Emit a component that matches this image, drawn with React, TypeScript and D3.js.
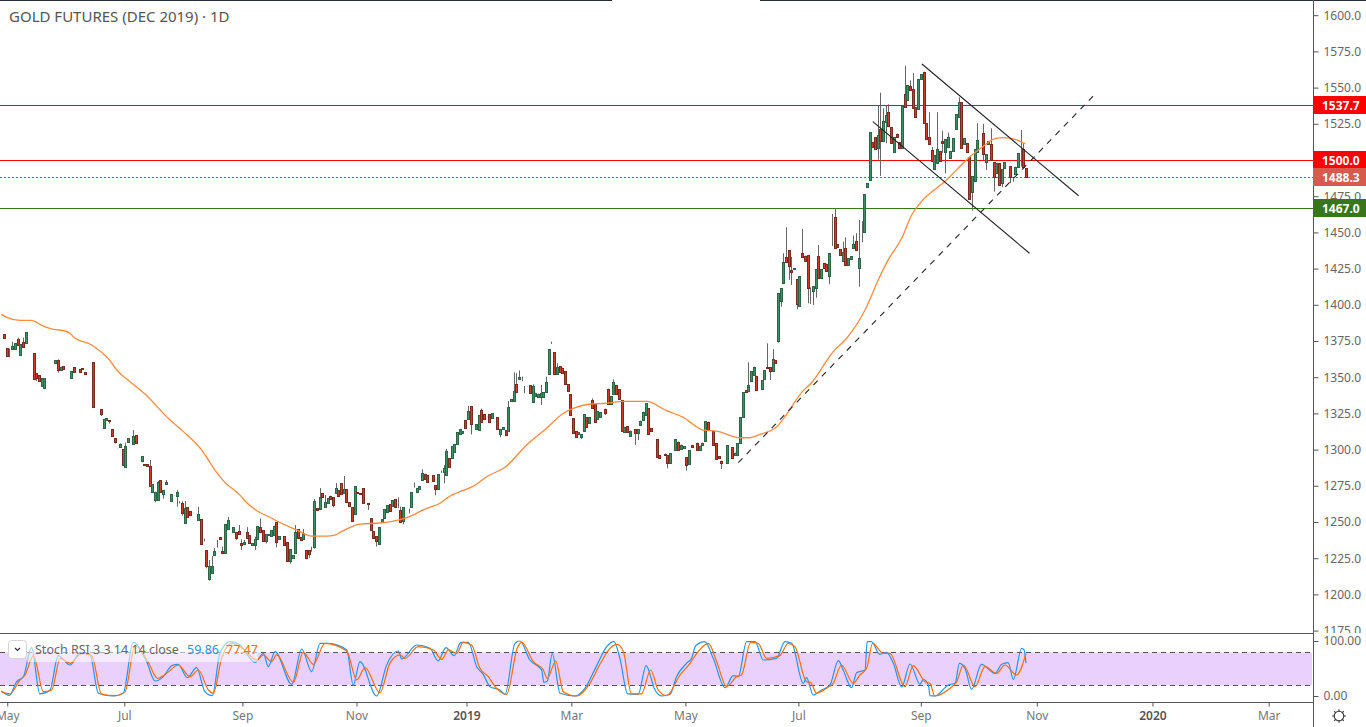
import { useEffect, useRef } from "react";
import * as d3 from "d3";

const WIDTH = 1366;
const HEIGHT = 727;
const AXIS_X = 1313;
const PANEL_Y = 633;
const BOTTOM_Y = 702;
const FONT = "'Noto Sans', sans-serif";

// daily candles, ten per row, bar 0 is the first one visible on the left
const opens = [
  1382.3,1379.6,1369.9,1363.7,1369.7,1369.7,1376.1,1365.5,1374.3,1373.4,
  1378.9,1376.8,1366.5,1352.6,1351.3,1344.1,1342.3,1349.9,1347.4,1362.3,
  1360,1361.6,1354.7,1357.5,1350.6,1349.2,1349.2,1356.8,1354.5,1355.4,
  1356.1,1353.3,1353.3,1360.2,1360.2,1331.2,1329.2,1327.8,1315.1,1320.4,
  1320.2,1314,1307.8,1300.6,1302,1300.4,1288.2,1305.5,1305.5,1303.6,
  1309.8,1293,1292.3,1289.8,1289.8,1288.4,1270.9,1265.4,1265,1278.8,
  1269.5,1276,1271.8,1264.7,1268.2,1268.2,1264.3,1262.9,1249.5,1260.1,
  1257.3,1257.1,1256.7,1251.1,1251.8,1236.6,1230.4,1210.9,1214.5,1227.4,
  1235.7,1239.4,1229.7,1228.3,1245,1249.7,1242.9,1242.9,1243.5,1235.2,
  1234.6,1242.9,1240.8,1233.9,1234.1,1238,1246.3,1244.2,1236.6,1241,
  1240,1241,1250,1238,1240.8,1240,1235.9,1222.8,1225.3,1228.3,
  1244.9,1239.4,1238,1230.4,1230.4,1229.5,1233,1259.4,1258.7,1269.8,
  1260.1,1262.9,1268.2,1267,1269.8,1271.8,
  1276.9,1269.8,1272.6,1263.6,1260.4,1255.3,1270.5,1269.8,1273.3,1265.7,
  1262.9,1252.5,1243.8,1240.3,1234.6,1249.8,1253,1257.1,1262.2,1261.3,
  1265.9,1259.9,1258.1,1250.7,1261,1256.9,1260.6,1277.2,1271,1272.6,
  1278.8,1283.4,1282.5,1280.9,1282.2,1275.3,1273,1284.1,1284.8,1282.2,
  1294,1294.4,1298.6,1304.1,1311,1311.2,1320.4,1321.4,1329.9,1322.1,
  1314.5,1313.5,1327.4,1324.4,1322.7,1324.4,1321.6,1323.7,1322.3,1311,
  1314.5,1313.5,1312.8,1333.3,1333.8,1345.1,1349,1347.4,1343.9,1343.9,
  1344.4,1333.1,1337,1336.6,1336.6,1336.6,1340,1352.4,1373.2,1367.2,
  1352.4,1357.7,1356.6,1354.1,1345.3,1338.2,1321.6,1312.6,1310.8,1308.9,
  1312.6,1322.3,1318.6,1334.3,1331.5,1320.9,1322.7,1330.1,1328.3,1342.1,
  1331.7,1338.6,1344.4,1341.6,1334,1312.4,1316.3,1309.6,1314,1314,
  1311.2,1317.2,1320.4,1324.1,1328.7,1314.7,1309.6,1307.1,1296,1294,
  1297.2,1296,1290.5,1297,1299.5,1305.5,1300.4,1300.9,1294.7,1290.1,
  1303,1303.2,1304.8,1300,1303.2,1305.7,1319.3,1315.1,1313.1,1304.3,
  1295.6,1292.4,1290.5,1290.5,1301.1,1301.6,1296,1296,1304.3,1322.7,
  1340.9,1340.7,1347.4,1351.5,1351,1343.5,1342.1,1349,1357.3,1356.8,
  1354.5,1361.7,1375.3,1402.9,1414.9,1433,1437.6,1424.3,1424.5,1417.6,
  1399.4,1435.6,1434,1434.2,1412.1,1409.8,1411.9,1433.5,1418.3,1428.7,
  1428.4,1420.1,1440.9,1460.4,1441.8,1438.3,1430.3,1439,1427.3,1431.9,
  1439.5,1443.9,1425.2,1457.7,1450.5,1481.2,1486.5,1512.2,1515.7,1508.6,
  1521.2,1513.2,1526.5,1533.4,1522.6,1505.8,1518.2,1512.2,1508.3,1545.4,
  1541.2,1551.1,1549.3,1536.4,1535,1555.7,1561,1525.4,1516.2,1506.7,
  1493.6,1497.7,1506,1512.9,1505.8,1508.8,1501.6,1506.5,1521.2,1529.5,
  1539.9,1511.1,1511.5,1502.1,1477.7,1485.5,1505.3,1511.5,1518.5,1498.4,
  1510.9,1510.9,1498.4,1491.3,1497.7,1484.4,1494.3,1495.4,1495.7,1487.8,
  1490.4,1495,1505.8,1507.4,1494.3,
];

const closes = [
  1382.3,1377.3,1364.9,1363.9,1371.5,1373.4,1372.5,1372.7,1371.1,1381,
  1378.9,1376.8,1348.5,1349.7,1347.6,1349.2,1349.2,1349.9,1347.4,1362.3,
  1361.6,1354.7,1357.3,1355.9,1350.6,1349.2,1354.3,1353.3,1354.5,1353.8,
  1355.9,1352,1353.3,1360.2,1329.2,1331.2,1329.2,1324.6,1321.1,1321.6,
  1319.8,1309.6,1305.5,1300.4,1303.6,1289.3,1302.5,1307.8,1305.3,1309.4,
  1304.8,1293,1295.3,1289.6,1288.4,1275.1,1276,1270.9,1277.6,1270.9,
  1271.8,1277.6,1271.8,1269.1,1268,1270.5,1264.3,1256.4,1259.4,1253.7,
  1254.6,1257.1,1256.7,1255.3,1234.6,1236.6,1219.8,1219.6,1219.6,1229.7,
  1235.3,1238,1228.3,1248.6,1251.1,1249.7,1246.3,1239.2,1241.5,1233.9,
  1236,1239.2,1235.2,1235.2,1238.2,1247,1243.3,1236.6,1241.5,1241.5,
  1244.2,1247.5,1236.4,1240,1240.8,1234.3,1222.8,1231.3,1227,1243.1,
  1238.9,1237.3,1242.2,1224.9,1227.7,1229.5,1264.5,1258,1267,1267,
  1263.6,1266.3,1265.6,1261.5,1273.2,1267.7,
  1269.1,1272.6,1263.6,1261.3,1250.9,1274.6,1270.3,1269.1,1262.9,1265.7,
  1262.7,1244.7,1239.2,1237.1,1246.6,1251.8,1259,1261.5,1257.4,1265.2,
  1260.1,1259.7,1250.2,1260.4,1261,1256.7,1270.7,1277.2,1273.3,1274.9,
  1283.6,1279.9,1277.9,1280.9,1278.5,1272.6,1282.9,1283.9,1287.1,1299,
  1288.2,1302.5,1303.6,1312.2,1314,1312.8,1315.1,1326.7,1317.5,1322.1,
  1317.5,1323.9,1319.3,1321.4,1322.5,1319.3,1325.1,1323.7,1314,1314,
  1315.4,1310.3,1329.2,1334.7,1340.5,1340,1349.9,1347.2,1343.9,1343.7,
  1339.3,1343.9,1339.3,1338.6,1339.3,1339.8,1346.7,1369.2,1373,1352.4,
  1357.3,1353.6,1353.1,1345.5,1340.7,1323.7,1311.7,1308.9,1312.2,1310.5,
  1324.4,1315.4,1322.3,1328.5,1319.3,1326.7,1325.7,1330.1,1325.5,1331.3,
  1336.8,1346.7,1338.6,1334.7,1313.1,1315.8,1312.4,1313.1,1314,1311.7,
  1314,1320,1326.2,1332,1311,1313.1,1309.4,1295.1,1294.4,1294,
  1296,1291,1297.4,1297,1307.3,1299.5,1303.4,1302.5,1289.4,1299.5,
  1301.6,1303.2,1299.5,1302.7,1304.8,1319.8,1313.3,1315.1,1303.4,1293.3,
  1294.2,1290.7,1290.5,1303,1301.1,1294.2,1297.9,1304.3,1322.3,1339.5,
  1339.8,1344.8,1354.1,1357.3,1340.9,1343.5,1347.9,1354.8,1356.1,1354.1,
  1362.4,1360,1408,1411.4,1429.4,1429.8,1426.6,1422.9,1425.2,1400.8,
  1419.7,1432.8,1430,1411.9,1412.1,1412.8,1424.5,1418.3,1424.5,1425.7,
  1423.6,1435.6,1440.7,1439,1439.7,1434.2,1436.3,1427.3,1432.1,1433.5,
  1441.8,1437.6,1432.1,1457.7,1476.3,1483.9,1519.1,1508.8,1507.9,1517.1,
  1513.4,1527.2,1530.9,1523.3,1511.6,1515.7,1515.7,1508.3,1537.3,1536.9,
  1551.6,1548.4,1536.2,1529.5,1555.7,1559.4,1525.4,1514.8,1511.1,1499.3,
  1503.3,1507.4,1499.1,1511.5,1514.3,1515.7,1506.3,1515,1531.6,1539.9,
  1508.1,1515,1505.8,1472.9,1489,1507.4,1513.9,1511.5,1504,1503.9,
  1513.2,1500,1488.5,1497.7,1483,1493.6,1498.4,1495.4,1488.1,1487.8,
  1495.4,1504.6,1505.4,1495.4,1488.3,
];

// only the bars with a visible wick, the rest stop at the body
const wickHighs: Record<number, number> = {
  3:1369.9,4:1374.5,6:1377.3,8:1377.3,21:1362.3,44:1304.3,46:1304.8,49:1313.5,55:1292.8,58:1278.3,
  61:1279,65:1272,67:1264.3,68:1264.5,73:1260.6,75:1238.5,77:1223.7,78:1226.5,79:1232,80:1237.6,
  82:1233,84:1253.4,88:1247.9,89:1238,90:1237.6,91:1246.5,94:1239.9,96:1252.5,109:1247.9,112:1245.2,
  115:1233,116:1265.9,118:1273.5,120:1268.6,124:1276.9,127:1281.8,147:1267,148:1260.6,151:1259.2,
  156:1286.4,163:1285.5,164:1289.4,165:1300.4,173:1330.1,178:1328.3,188:1333.6,190:1353.4,191:1352.7,
  192:1354.7,193:1350.4,197:1345.1,200:1344.6,202:1350.4,204:1374.5,206:1359.6,219:1335.4,227:1348.5,
  277:1360.3,284:1373.4,286:1369.3,290:1435.6,291:1453.5,293:1433,297:1452.4,303:1441.3,308:1462.7,
  309:1466,312:1443.6,313:1446.6,316:1447.8,317:1449.4,318:1458.6,325:1537.8,326:1546.5,327:1535.7,
  328:1538,329:1538.5,335:1565,337:1555,338:1559.9,344:1533,345:1509,347:1533,349:1520.3,351:1519,
  355:1543.3,362:1525.4,364:1525,367:1521.9,378:1520.7,379:1511.5,
};

const wickLows: Record<number, number> = {
  13:1347.4,21:1353.1,37:1323.2,40:1317.9,42:1304.3,52:1291.2,57:1263.6,60:1266.1,65:1260.6,66:1262.9,
  67:1254.4,76:1218,77:1209.5,80:1232.3,87:1237.6,89:1230.6,94:1230.6,98:1235.2,102:1232.5,107:1221.2,
  113:1224.2,114:1225.3,116:1231.6,123:1260.1,136:1258.3,139:1233,149:1248.4,151:1256,153:1273.7,
  161:1268.4,164:1276.7,174:1310.5,185:1308.5,194:1338.9,200:1330.8,215:1307.3,224:1323.9,235:1303.2,
  236:1306.6,247:1287.1,254:1285.5,267:1286.6,285:1348.1,288:1373.9,289:1398.7,292:1417.2,293:1413.7,
  295:1396.9,299:1401,300:1400.6,301:1399.9,302:1404.9,307:1414.2,318:1412.5,319:1443.2,325:1500.2,
  326:1489,328:1511.6,349:1505,350:1490.8,360:1465,364:1500,365:1493.1,368:1478.2,371:1481.2,374:1484,
  375:1485,378:1495.4,
};

const maBars = [
  0,2,6.9,10.9,15.6,19.3,23,25.5,26.7,33.5,40.3,42.8,46.5,53.3,61.9,67.5,74.3,79.2,83,88.5,89.7,101.5,
  109.5,115.1,120.6,123.7,125.6,133,140.4,150.3,157.7,162.7,165.1,176.3,180,186.8,194.8,202.2,208.4,
  212.1,218.3,224.5,230.7,239.3,246.7,252.9,260.3,265.3,273.9,277.6,281.3,286.9,297.4,300.5,308.5,
  313.5,320.3,325.8,328.9,333.9,337.6,340.7,349.9,359.2,364.8,367.9,371.6,376.5,379.8,
];
const maValues = [
  1393.4,1391.3,1389.3,1389.3,1385.3,1383,1382.1,1380.3,1378,1372.2,1361.4,1355,1348.7,1338.4,1321.6,
  1312.4,1299.7,1285.9,1277.2,1268.6,1265.9,1251.4,1244.5,1240.3,1240.3,1241,1242.8,1248.6,1249.3,1253,
  1259.4,1262.9,1266.3,1276.2,1281.3,1287.8,1303.2,1314.7,1325.1,1328.5,1331.5,1332,1333.3,1333.3,
  1326.9,1322.3,1313.5,1312.8,1308.2,1308.2,1310.5,1314.7,1340.7,1346.2,1367.7,1376.9,1396.4,1419.5,
  1431,1445.9,1462,1470.1,1485.1,1502.3,1510.4,1514.5,1515.5,1513.9,1511.1,
];

const kBars = [
  0,3,5.7,8.2,11.2,14.3,18,21.1,25.5,29.2,32.9,36,41.5,45.2,48.9,53.9,57,60.1,63.2,65.6,69,72.4,75.5,78.2,
  81.1,84.8,88.5,94.1,97.2,99,101.5,107.7,111.4,115.1,118.2,121.3,128.1,130.5,133,139.2,142.9,147.2,148.5,
  154,159,162,164.9,167.9,170.1,170.7,173.2,176.3,178.7,181.2,184.9,186.8,190.5,192.3,196,200.4,201.2,202.5,
  204.3,207.2,212.7,216.4,220.8,224.5,227.2,229.4,232.3,236.2,239.1,242.4,244.9,248,250.4,254.1,256,257.5,
  260.9,264,268.4,271.4,273.3,276.4,279.5,282.6,287.5,290.6,293.1,297.4,298.6,301.1,304.2,307.3,310.4,312.2,
  315.3,317.2,320.3,321.1,322.7,325.8,328.3,330.8,333.9,337,340.7,341.9,343.8,344.4,346.2,351.2,353.7,355.3,
  357.4,359.8,363.5,368.5,371,373.4,375.3,378.4,379.3,380,
];
const kValues = [
  9.1,1.2,26.1,35.2,87.9,3.7,10.3,73.4,56.4,79.4,74.6,4.9,0,4.9,97.6,62.4,27.3,35.2,55.2,57.6,33.3,51.5,7.9,0.6,
  77.6,98.8,92.7,61.2,77.6,53.3,80.6,21.2,85.5,44.3,95.8,95.8,83.7,20,62.4,0,56.4,81.8,67.3,
  92.7,86.7,63.6,87.9,73.4,95.8,97.6,97.6,53.3,39.4,17,10.9,3.1,95.8,100,65.5,47.3,24.9,27.3,
  77.6,4.9,0,14,55.2,89.7,98.8,68.5,3.7,3.1,55.2,10.9,0,3.1,35.2,59.4,68.5,91.5,
  98.8,68.5,15.2,37,35.2,98.8,98.8,65.5,68.5,98.8,95.8,23.1,33.3,1.8,10.9,20,64.2,47.3,
  15.2,42.4,47.3,98.8,98.8,75.8,79.4,59.4,16.4,58.2,21.2,30.3,20,0.6,0,20,23.1,59.4,
  50.3,12.1,57.6,41.2,57.6,60.6,30.3,86.7,83.7,59.86,
];

const dBars = [
  0,3.2,6.9,8.8,11.9,15.6,18.7,21.8,25.5,29.8,33.5,37.2,42.2,45.9,49.6,54.5,57.9,61.3,65.6,70,73.1,76.8,78.6,
  81.7,85.4,89.7,94.7,97.2,100.2,102.1,108.3,112,115.7,120,128.1,131.8,134.9,140.4,144.1,147.8,149.7,154.6,
  160.2,163.3,165.8,168.9,171.3,174.4,177.5,180.6,183.1,187.4,191.3,193,197.3,201,202.5,205.6,208.4,213.4,
  218.3,222,225.7,228.4,230.7,233.7,237.4,240.8,243.6,246.7,251.7,255.4,257.9,262.2,265.3,269,272.7,274.5,
  277.9,280.7,283.8,288.7,291.8,294.3,298.6,300.1,302.3,306,308.5,311.6,315.9,318.4,320.9,323.1,327.1,329.5,
  335.1,338.2,342.5,344.4,346.2,351.8,354.3,356.8,361.1,364.8,369.1,372.2,376.5,380,
];
const dValues = [
  7.9,3.7,29.1,38.2,73.4,7.9,10.9,68.5,59.4,77.6,73.4,3.1,0.6,7.9,91.5,61.2,32.1,41.2,56.4,35.2,47.3,10.9,4.9,
  68.5,95.8,85.5,65.5,74.6,62.4,74.6,24.9,79.4,57.6,95.8,81.8,29.1,51.5,6.1,59.4,74.6,68.5,89.7,
  83.7,66.7,83.7,77.6,97.6,92.7,50.3,35.2,17,3.1,86.7,97.6,62.4,47.3,32.1,63.6,7.9,0,
  23.1,57.6,86.7,93.9,80.6,3.7,3.7,47.3,10.9,0.6,38.2,59.4,77.6,95.8,62.4,17,35.2,38.2,
  97.6,95.8,68.5,73.4,95.8,89.7,26.1,24.9,4.9,13.9,23.1,56.4,23.1,38.2,50.3,95.8,77.6,77.6,
  17,55.2,26.1,23.1,0,14,26.1,56.4,17,53.3,41.2,56.4,38.2,77.47,
];

const priceTicks = d3.range(1175, 1601, 25);
const stochTicks = [0, 100];
const stochBands = [20, 80];

const timeLabels = ["May", "Jul", "Sep", "Nov", "2019", "Mar", "May", "Jul", "Sep", "Nov", "2020", "Mar"];
const timeBars = [2.2, 45.6, 89.4, 131.7, 172.5, 211.4, 253.7, 295.6, 341, 384, 426.9, 470];

const levels = [
  { price: 1537.7, color: "#ff0000", box: "#ff0000", dash: "" },
  { price: 1500.0, color: "#ff0000", box: "#ff0000", dash: "" },
  { price: 1488.3, color: "#c8493c", box: "#d9594c", dash: "2,2" },
  { price: 1467.0, color: "#38761d", box: "#38761d", dash: "" },
];

// bar, price at both ends
const trendlines = [
  { bars: [273.3, 406.4], prices: [1291, 1547], dash: "6,6" },
  { bars: [341.4, 399.5], prices: [1566.3, 1475.3], dash: "" },
  { bars: [323.2, 381.3], prices: [1526.5, 1435.6], dash: "" },
];

export default function App() {
  const svgRef = useRef<SVGSVGElement>(null);

  useEffect(() => {
    const svg = d3.select(svgRef.current);
    svg.selectAll("*").remove();

    const x = d3.scaleLinear().domain([0, 380]).range([1.33, 1026]);
    const y = d3.scaleLinear().domain([1500, 1600]).range([160, 15.2]);
    const yStoch = d3.scaleLinear().domain([0, 100]).range([696, 641]);

    // snap to the pixel grid so thin marks stay crisp
    const snap = (v: number) => Math.round(v) + 0.5;

    const defs = svg.append("defs");
    defs.append("clipPath").attr("id", "price-clip")
      .append("rect").attr("width", AXIS_X).attr("height", PANEL_Y);
    defs.append("clipPath").attr("id", "price-axis-clip")
      .append("rect").attr("x", AXIS_X).attr("width", WIDTH - AXIS_X).attr("height", PANEL_Y);

    svg.append("rect").attr("width", WIDTH).attr("height", HEIGHT).attr("fill", "#ffffff");

    const main = svg.append("g").attr("clip-path", "url(#price-clip)");

    // horizontal levels sit under the candles
    main.selectAll(".level")
      .data(levels)
      .enter()
      .append("line")
      .attr("x1", 0)
      .attr("x2", AXIS_X)
      .attr("y1", (d) => snap(y(d.price)))
      .attr("y2", (d) => snap(y(d.price)))
      .attr("stroke", (d) => d.color)
      .attr("stroke-width", 1)
      .attr("stroke-dasharray", (d) => d.dash);

    const bars = d3.range(opens.length);

    main.selectAll(".wick")
      .data(bars)
      .enter()
      .append("line")
      .attr("x1", (i) => snap(x(i)))
      .attr("x2", (i) => snap(x(i)))
      .attr("y1", (i) => y(wickHighs[i] ?? Math.max(opens[i], closes[i])))
      .attr("y2", (i) => y(wickLows[i] ?? Math.min(opens[i], closes[i])))
      .attr("stroke", "#666666")
      .attr("stroke-width", 1);

    main.selectAll(".body")
      .data(bars)
      .enter()
      .append("rect")
      .attr("x", (i) => snap(x(i)) - 1)
      .attr("width", 2)
      .attr("y", (i) => snap(y(Math.max(opens[i], closes[i]))))
      .attr("height", (i) => snap(y(Math.min(opens[i], closes[i]))) - snap(y(Math.max(opens[i], closes[i]))))
      .attr("fill", (i) => (closes[i] >= opens[i] ? "#418f66" : "#cf3b2b"))
      .attr("stroke", (i) => (closes[i] >= opens[i] ? "#2b6546" : "#7a2a1e"))
      .attr("stroke-width", 1);

    // moving average
    const maLine = d3.line<number>()
      .x((b) => x(b))
      .y((_, j) => y(maValues[j]))
      .curve(d3.curveMonotoneX);
    main.append("path")
      .attr("d", maLine(maBars))
      .attr("fill", "none")
      .attr("stroke", "#ff8a3c")
      .attr("stroke-width", 1.3);

    // drawn trend lines
    trendlines.forEach((t) => {
      main.append("line")
        .attr("x1", x(t.bars[0]))
        .attr("x2", x(t.bars[1]))
        .attr("y1", y(t.prices[0]))
        .attr("y2", y(t.prices[1]))
        .attr("stroke", "#222222")
        .attr("stroke-width", 1.1)
        .attr("stroke-dasharray", t.dash);
    });

    // title
    svg.append("text")
      .attr("x", 9)
      .attr("y", 22)
      .attr("fill", "#555555")
      .attr("font-size", 15)
      .attr("font-family", FONT)
      .text("GOLD FUTURES (DEC 2019) · 1D");

    // Stoch RSI panel
    svg.append("rect")
      .attr("x", 0)
      .attr("width", AXIS_X - 1)
      .attr("y", snap(yStoch(stochBands[1])))
      .attr("height", snap(yStoch(stochBands[0])) - snap(yStoch(stochBands[1])))
      .attr("fill", "#e9d0fd");

    svg.selectAll(".band")
      .data(stochBands)
      .enter()
      .append("line")
      .attr("x1", 0)
      .attr("x2", AXIS_X)
      .attr("y1", (d) => snap(yStoch(d)))
      .attr("y2", (d) => snap(yStoch(d)))
      .attr("stroke", "#555555")
      .attr("stroke-dasharray", "5,4");

    const drawStoch = (xs: number[], vs: number[], color: string) => {
      const line = d3.line<number>()
        .x((b) => x(b))
        .y((_, j) => yStoch(vs[j]))
        .curve(d3.curveMonotoneX);
      svg.append("path")
        .attr("d", line(xs))
        .attr("fill", "none")
        .attr("stroke", color)
        .attr("stroke-width", 1.2);
    };
    drawStoch(kBars, kValues, "#2196f3");
    drawStoch(dBars, dValues, "#ff6d00");

    // legend washes out what is under it
    svg.append("rect")
      .attr("x", 27)
      .attr("y", 637)
      .attr("width", 231)
      .attr("height", 25)
      .attr("fill", "#ffffff")
      .attr("opacity", 0.55);
    svg.append("rect")
      .attr("x", 8.5)
      .attr("y", 640.5)
      .attr("width", 18)
      .attr("height", 18)
      .attr("rx", 3)
      .attr("fill", "#ffffff")
      .attr("stroke", "#d4d4d4");
    svg.append("path")
      .attr("d", d3.line()([[15, 648], [17.5, 650.5], [20, 648]]))
      .attr("fill", "none")
      .attr("stroke", "#333333")
      .attr("stroke-width", 1.2);
    const legend = [
      { label: "Stoch RSI 3 3 14 14 close", lx: 35, color: "#666666" },
      { label: kValues[kValues.length - 1].toFixed(2), lx: 187, color: "#2196f3" },
      { label: dValues[dValues.length - 1].toFixed(2), lx: 226, color: "#ff6d00" },
    ];
    legend.forEach((l) => {
      svg.append("text")
        .attr("x", l.lx)
        .attr("y", 654)
        .attr("fill", l.color)
        .attr("font-size", 12.5)
        .attr("font-family", FONT)
        .text(l.label);
    });

    // frame
    const frame = [
      [0, 0.5, 612, 0.5, "#2a2e39"],
      [760, 0.5, WIDTH, 0.5, "#2a2e39"],
      [0, PANEL_Y + 0.5, AXIS_X, PANEL_Y + 0.5, "#555555"],
      [0, BOTTOM_Y + 0.5, AXIS_X, BOTTOM_Y + 0.5, "#555555"],
      [AXIS_X + 0.5, 0, AXIS_X + 0.5, HEIGHT, "#555555"],
    ] as [number, number, number, number, string][];
    frame.forEach(([x1, y1, x2, y2, c]) => {
      svg.append("line")
        .attr("x1", x1).attr("y1", y1).attr("x2", x2).attr("y2", y2)
        .attr("stroke", c).attr("stroke-width", 1);
    });

    const styleAxis = (axis: d3.Selection<SVGGElement, unknown, null, undefined>) => {
      axis.select(".domain").remove();
      axis.selectAll(".tick line").attr("stroke", "#555555");
      axis.selectAll(".tick text")
        .attr("fill", "#666666")
        .attr("font-size", 12)
        .attr("font-family", FONT);
    };

    // price axis, the 1175 label is cut by the panel edge
    svg.append("g")
      .attr("clip-path", "url(#price-axis-clip)")
      .append("g")
      .attr("transform", `translate(${AXIS_X + 0.5},0)`)
      .call(d3.axisRight(y).tickValues(priceTicks).tickSize(5).tickPadding(5).tickFormat((d) => (d as number).toFixed(1)))
      .call(styleAxis);

    svg.append("g")
      .attr("transform", `translate(${AXIS_X + 0.5},0)`)
      .call(d3.axisRight(yStoch).tickValues(stochTicks).tickSize(5).tickPadding(5).tickFormat((d) => (d as number).toFixed(2)))
      .call(styleAxis);

    svg.append("g")
      .attr("transform", `translate(0,${BOTTOM_Y + 0.5})`)
      .call(
        d3.axisBottom(x)
          .tickValues(timeBars)
          .tickSize(4)
          .tickPadding(5)
          .tickFormat((_, i) => timeLabels[i]),
      )
      .call(styleAxis)
      .call((axis) => {
        axis.selectAll<SVGTextElement, number>(".tick text")
          .attr("font-weight", (_, i) => (timeLabels[i].length === 4 ? 600 : 400))
          .attr("fill", (_, i) => (timeLabels[i].length === 4 ? "#555555" : "#777777"));
      });

    // level labels on the axis
    const boxes = svg.selectAll(".level-box")
      .data(levels)
      .enter()
      .append("g")
      .attr("transform", (d) => `translate(${AXIS_X},${Math.round(y(d.price))})`);
    boxes.append("rect")
      .attr("x", 0)
      .attr("y", -9)
      .attr("width", WIDTH - AXIS_X)
      .attr("height", 18)
      .attr("fill", (d) => d.box);
    boxes.append("text")
      .attr("x", 9)
      .attr("y", 4.5)
      .attr("fill", "#ffffff")
      .attr("font-size", 12)
      .attr("font-weight", 700)
      .attr("font-family", FONT)
      .text((d) => d.price.toFixed(1));

    // settings gear
    const gear = svg.append("g").attr("transform", "translate(1339,716)");
    gear.append("circle").attr("r", 4.8).attr("fill", "none").attr("stroke", "#333333").attr("stroke-width", 1.1);
    gear.selectAll("line")
      .data(d3.range(8))
      .enter()
      .append("line")
      .attr("x1", (k) => 4.8 * Math.cos((k * Math.PI) / 4))
      .attr("y1", (k) => 4.8 * Math.sin((k * Math.PI) / 4))
      .attr("x2", (k) => 6.8 * Math.cos((k * Math.PI) / 4))
      .attr("y2", (k) => 6.8 * Math.sin((k * Math.PI) / 4))
      .attr("stroke", "#333333")
      .attr("stroke-width", 1.1);
  }, []);

  return (
    <div style={{ position: "fixed", left: 0, top: 0 }}>
      <svg ref={svgRef} width={WIDTH} height={HEIGHT} style={{ display: "block" }} />
    </div>
  );
}
